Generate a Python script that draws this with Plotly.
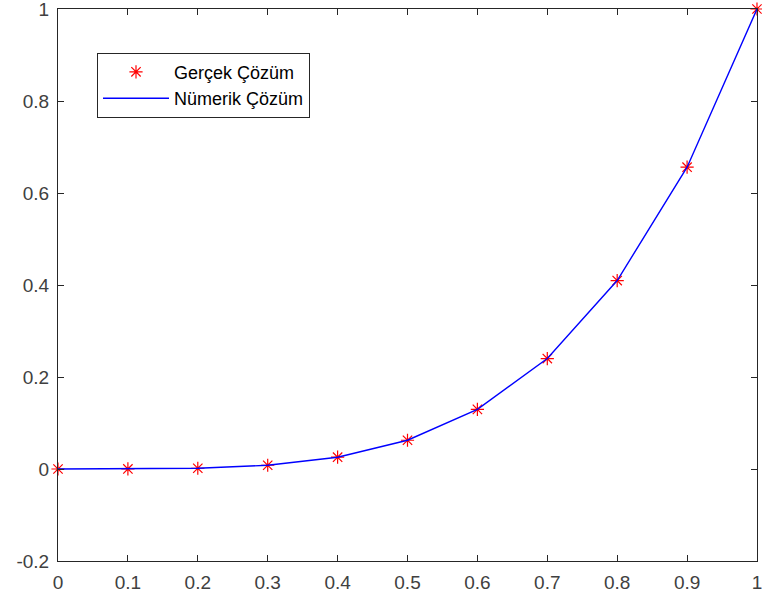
import plotly.graph_objects as go

x_vals = [0, 0.1, 0.2, 0.3, 0.4, 0.5, 0.6, 0.7, 0.8, 0.9, 1.0]
exact_y = [0.0, 0.0001, 0.0016, 0.0081, 0.0256, 0.0625, 0.1296, 0.2401, 0.4096, 0.6561, 1.0]
numeric_y = [0.0, 0.0001, 0.0016, 0.0081, 0.0256, 0.0625, 0.1296, 0.2401, 0.4096, 0.6561, 1.0]

x_ticks = [0, 0.1, 0.2, 0.3, 0.4, 0.5, 0.6, 0.7, 0.8, 0.9, 1]
x_ticklabels = ["0", "0.1", "0.2", "0.3", "0.4", "0.5", "0.6", "0.7", "0.8", "0.9", "1"]
y_ticks = [-0.2, 0, 0.2, 0.4, 0.6, 0.8, 1]
y_ticklabels = ["-0.2", "0", "0.2", "0.4", "0.6", "0.8", "1"]

axis_color = "#262626"

fig = go.Figure()
fig.add_trace(go.Scatter(
    x=x_vals, y=exact_y, mode="markers", name="Gerçek Çözüm",
    marker=dict(symbol="asterisk-open", size=11, color="#ff0000",
                line=dict(color="#ff0000", width=1.2)),
    cliponaxis=False,
))
fig.add_trace(go.Scatter(
    x=x_vals, y=numeric_y, mode="lines", name="Nümerik Çözüm",
    line=dict(color="#0000ff", width=1.4),
))

axis_common = dict(
    showgrid=False, zeroline=False, showline=True, linecolor=axis_color,
    linewidth=1, mirror="ticks", ticks="inside", ticklen=6, tickcolor=axis_color,
    automargin=False, ticklabeloverflow="allow",
    tickfont=dict(family="Liberation Sans, Arial", size=19, color="#404040"),
)

fig.update_layout(
    width=762, height=600,
    margin=dict(l=58, r=5, t=9, b=39),
    plot_bgcolor="white", paper_bgcolor="white",
    xaxis=dict(range=[0, 1.00001], tickvals=x_ticks, ticktext=x_ticklabels,
               ticklabelstandoff=4, **axis_common),
    yaxis=dict(range=[-0.20001, 1.00001], tickvals=y_ticks, ticktext=y_ticklabels,
               ticklabelstandoff=4, **axis_common),
    legend=dict(
        x=0.0558, y=0.921, xanchor="left", yanchor="top",
        bgcolor="white", bordercolor=axis_color, borderwidth=1,
        font=dict(family="Liberation Sans, Arial", size=18, color="#000000"),
        itemwidth=66, tracegroupgap=0,
    ),
    showlegend=True,
)

fig.write_html("out.html", config={"displayModeBar": False},
               post_script="document.body.style.margin='0';document.body.style.overflow='hidden';")
